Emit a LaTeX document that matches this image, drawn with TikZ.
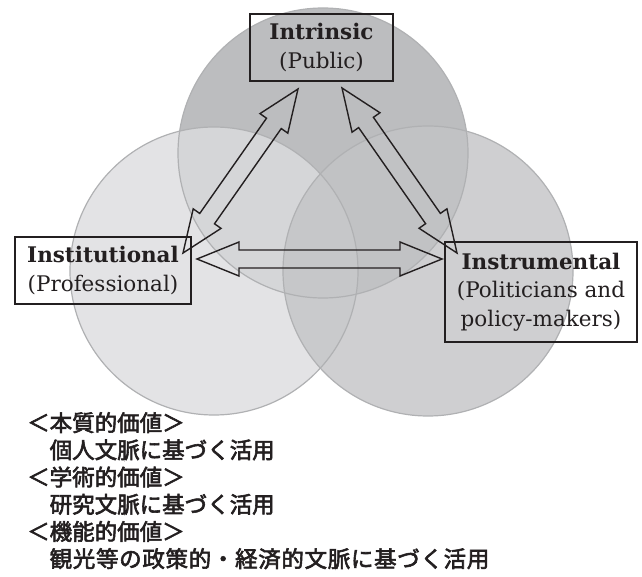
\documentclass[tikz,border=0pt]{standalone}
\usepackage{fontspec}
\setmainfont{DejaVu Serif}
\newfontfamily\jpfont[FakeBold=2.6]{Noto Sans CJK JP}
\usetikzlibrary{calc}
\definecolor{ink}{HTML}{231F20}
\definecolor{topfill}{HTML}{BCBDBF}
\definecolor{leftfill}{HTML}{DCDDDF}
\definecolor{rightfill}{HTML}{C3C4C6}
\definecolor{rim}{HTML}{B0B1B3}
\newcommand\dblarr[2]{%
  \path ($(#1)!42pt!(#2)$) coordinate (h1) ($(#2)!42pt!(#1)$) coordinate (h2);
  \draw[blockarrow] (#1) -- ($(h1)!17pt!90:(#2)$) -- ($(h1)!9pt!90:(#2)$)
    -- ($(h2)!9pt!-90:(#1)$) -- ($(h2)!17pt!-90:(#1)$) -- (#2)
    -- ($(h2)!17pt!90:(#1)$) -- ($(h2)!9pt!90:(#1)$)
    -- ($(h1)!9pt!-90:(#2)$) -- ($(h1)!17pt!-90:(#2)$) -- cycle;}
\tikzset{
  box/.style={draw=ink, line width=1.8pt, align=center, text=ink, inner sep=0pt,
    font=\fontsize{21.5}{28.5}\selectfont},
  blockarrow/.style={draw=ink, line width=1.4pt, line join=miter},
  rimline/.style={draw=rim, line width=1.2pt}
}
\begin{document}
\begin{tikzpicture}[x=1pt,y=-1pt]
\useasboundingbox (0,0) rectangle (642,577);
\fill[white] (0,0) rectangle (642,577);
\coordinate (cT) at (323,153);
\coordinate (cL) at (214,271);
\coordinate (cR) at (428,271);
\fill[topfill] (cT) circle[radius=145];
\fill[leftfill, fill opacity=0.8] (cL) circle[radius=144];
\fill[rightfill, fill opacity=0.8] (cR) circle[radius=145];
\draw[rimline] (cT) circle[radius=145];
\draw[rimline] (cL) circle[radius=144];
\draw[rimline] (cR) circle[radius=145];
\node[box, minimum width=143pt, minimum height=67pt] (intr) at (321.5,47.5)
  {\textbf{Intrinsic}\\(Public)};
\node[box, minimum width=176pt, minimum height=67pt] (inst) at (103,270.5)
  {\textbf{Institutional}\\(Professional)};
\node[box, minimum width=192pt, minimum height=100pt] (instr) at (541,292)
  {\textbf{Instrumental}\\(Politicians and\\policy-makers)};
\coordinate (aLb) at (183,253);
\coordinate (aLt) at (298,89);
\coordinate (aRt) at (342,88);
\coordinate (aRb) at (457,253);
\coordinate (aHl) at (197,259);
\coordinate (aHr) at (442,259);
\dblarr{aLb}{aLt}
\dblarr{aRt}{aRb}
\dblarr{aHl}{aHr}
\node[anchor=north west, align=left, inner sep=0pt, text=ink,
  font=\jpfont\fontsize{22.5}{27.2}\selectfont] (notes) at (27,412)
  {＜本質的価値＞\\　個人文脈に基づく活用\\＜学術的価値＞\\　研究文脈に基づく活用\\＜機能的価値＞\\　{\addfontfeatures{LetterSpace=3}観光等の政策的・経済的文脈に基づく活用}};
\end{tikzpicture}
\end{document}
